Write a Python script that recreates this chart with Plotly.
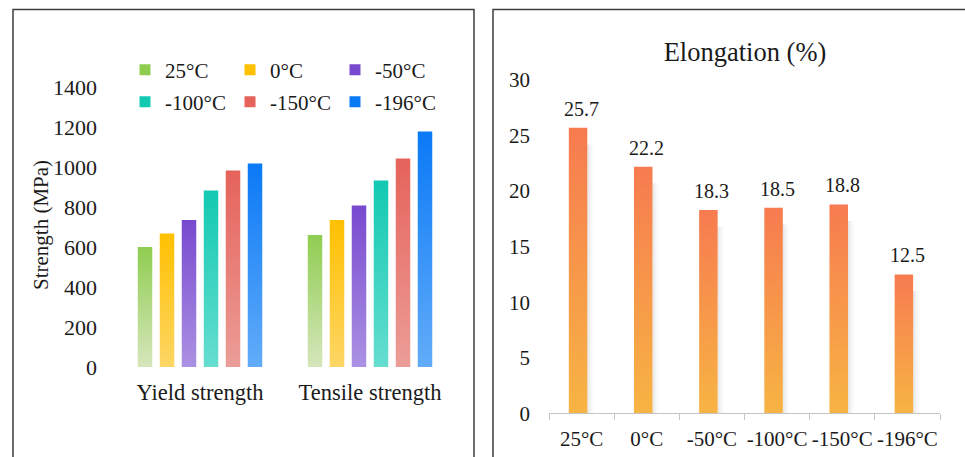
import plotly.graph_objects as go

W, H = 965, 457

# ---------------- data ----------------
temps = ["25°C", "0°C", "-50°C", "-100°C", "-150°C", "-196°C"]
strength_cats = ["Yield strength", "Tensile strength"]
yield_strength = [600, 667, 735, 882, 982, 1018]
tensile_strength = [660, 735, 808, 932, 1042, 1178]
elongation = [25.7, 22.2, 18.3, 18.5, 18.8, 12.5]

# ---------------- styles ----------------
top_colors = ["#8fcd50", "#fec000", "#7849cf", "#12c9b1", "#e5635b", "#0a79f6"]
bottom_colors = ["#d6e6bc", "#fdd665", "#ab92e3", "#66ded0", "#ec9d97", "#62acf9"]
elong_top = "#f77b50"
elong_bottom = "#f7b443"
FONT = "Liberation Serif, Times New Roman, serif"
TXT = "#1a1a1a"


def fx(px):
    return px / W


def fy(py):
    return 1 - py / H


fig = go.Figure()

# ---------------- left chart: strength ----------------
pitch = 22 / 170.0
half_w = 14.5 / 170.0 / 2
for j, t in enumerate(temps):
    for g, series in enumerate([yield_strength, tensile_strength]):
        v = series[j]
        xc = g + (j - 2.5) * pitch
        x0, x1 = xc - half_w, xc + half_w
        fig.add_trace(go.Scatter(
            x=[x0, x0, x1, x1, x0], y=[0, v, v, 0, 0],
            mode="lines", line=dict(width=0), fill="toself",
            fillgradient=dict(type="vertical",
                              colorscale=[[0, bottom_colors[j]], [1, top_colors[j]]]),
            xaxis="x", yaxis="y", showlegend=False, hoverinfo="skip",
        ))
    fig.add_trace(go.Scatter(
        x=[None], y=[None], mode="markers", name=t,
        marker=dict(symbol="square", size=11, color=top_colors[j]),
        xaxis="x", yaxis="y",
        legend="legend" if j < 3 else "legend2",
    ))

# ---------------- right chart: elongation ----------------
bw = 0.142
boff = -0.054
for i, v in enumerate(elongation):
    xc = i + boff
    x0, x1 = xc - bw, xc + bw
    # soft shadow
    fig.add_trace(go.Scatter(
        x=[x1, x1, x1 + 0.13, x1 + 0.13, x1], y=[0, v - 1.5, v - 1.5, 0, 0],
        mode="lines", line=dict(width=0), fill="toself",
        fillgradient=dict(type="horizontal",
                          colorscale=[[0, "rgba(130,130,130,0.22)"], [1, "rgba(255,255,255,0)"]]),
        xaxis="x2", yaxis="y2", showlegend=False, hoverinfo="skip",
    ))
    fig.add_trace(go.Scatter(
        x=[x0, x0, x1, x1, x0], y=[0, v, v, 0, 0],
        mode="lines", line=dict(width=0), fill="toself",
        fillgradient=dict(type="vertical",
                          colorscale=[[0, elong_bottom], [1, elong_top]]),
        xaxis="x2", yaxis="y2", showlegend=False, hoverinfo="skip",
    ))
    fig.add_annotation(x=i, y=v, xref="x2", yref="y2", text=f"{v:.1f}",
                       showarrow=False, yanchor="bottom", yshift=6,
                       font=dict(family=FONT, size=20, color=TXT))

# y-axis title of left chart
fig.add_annotation(x=fx(41), y=fy(225), xref="paper", yref="paper",
                   text="Strength (MPa)", textangle=-90, showarrow=False,
                   xanchor="center", yanchor="middle",
                   font=dict(family=FONT, size=21, color=TXT))

# panel borders
fig.add_shape(type="rect", xref="paper", yref="paper",
              x0=fx(13), x1=fx(474), y0=-0.1, y1=fy(9.5),
              line=dict(color="#3c3c3c", width=1.5), layer="below")
fig.add_shape(type="rect", xref="paper", yref="paper",
              x0=fx(493), x1=1.05, y0=-0.1, y1=fy(9.5),
              line=dict(color="#3c3c3c", width=1.5), layer="below")

legend_common = dict(
    orientation="h", xanchor="left", yanchor="middle",
    font=dict(family=FONT, size=21, color=TXT),
    entrywidth=60, entrywidthmode="pixels",
    bgcolor="rgba(0,0,0,0)", borderwidth=0,
    itemwidth=30, tracegroupgap=0,
)

fig.update_layout(
    width=W, height=H,
    margin=dict(l=0, r=0, t=0, b=0, autoexpand=False),
    paper_bgcolor="white", plot_bgcolor="rgba(0,0,0,0)",
    font=dict(family=FONT, color=TXT),
    title=dict(text="Elongation (%)", x=fx(745), y=fy(52),
               xanchor="center", yanchor="middle", xref="paper", yref="paper",
               font=dict(family=FONT, size=26.5, color=TXT)),
    legend=dict(x=fx(125), y=fy(70), **legend_common),
    legend2=dict(x=fx(125), y=fy(102), **legend_common),
    xaxis=dict(domain=[fx(115), fx(455)], range=[-0.5, 1.5],
               tickvals=[0, 1], ticktext=strength_cats,
               showline=False, showgrid=False, zeroline=False, ticks="",
               tickfont=dict(family=FONT, size=22.5, color=TXT),
               ticklabelstandoff=9, anchor="y", fixedrange=True, automargin=False),
    yaxis=dict(domain=[fy(367), fy(87)], range=[0, 1400], dtick=200,
               showline=False, showgrid=False, zeroline=False, ticks="",
               tickfont=dict(family=FONT, size=22, color=TXT),
               ticklabelstandoff=17, anchor="x", fixedrange=True, automargin=False),
    xaxis2=dict(domain=[fx(549), fx(940)], range=[-0.5, 5.5],
                tickvals=list(range(len(temps))), ticktext=temps,
                showline=True, linecolor="#c4c4c4", linewidth=1.3,
                showgrid=False, zeroline=False, ticks="",
                minor=dict(tickvals=[k - 0.5 for k in range(len(temps) + 1)],
                           ticks="outside", ticklen=6, tickcolor="#c4c4c4", tickwidth=1.3),
                tickfont=dict(family=FONT, size=21, color=TXT),
                ticklabelstandoff=6, anchor="y2", fixedrange=True, automargin=False),
    yaxis2=dict(domain=[fy(413.3), fy(80)], range=[0, 30], dtick=5,
                showline=False, showgrid=False, zeroline=False, ticks="",
                tickfont=dict(family=FONT, size=21, color=TXT),
                ticklabelstandoff=18, anchor="x2", fixedrange=True, automargin=False),
)

fig.write_html("out.html")
